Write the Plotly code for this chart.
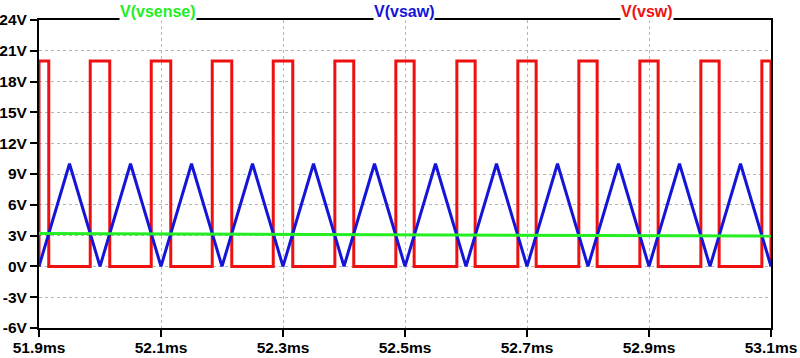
import plotly.graph_objects as go

# Time in ms
saw_t = [51.9, 51.95, 52.0, 52.05, 52.1, 52.15, 52.2, 52.25, 52.3, 52.35, 52.4, 52.45,
         52.5, 52.55, 52.6, 52.65, 52.7, 52.75, 52.8, 52.85, 52.9, 52.95, 53.0, 53.05, 53.1]
saw_v = [0, 10, 0, 10, 0, 10, 0, 10, 0, 10, 0, 10, 0, 10, 0, 10, 0, 10, 0, 10, 0, 10, 0, 10, 0]

sense_t = [51.9, 52.3, 52.7, 53.1]
sense_v = [3.2, 3.12, 3.03, 2.95]

# Switch node: high intervals (start, end) in ms
sw_rise = [51.9, 51.984, 52.084, 52.184, 52.284, 52.385, 52.485, 52.585, 52.685, 52.785, 52.885, 52.985, 53.085]
sw_fall = [51.916, 52.016, 52.116, 52.216, 52.316, 52.416, 52.515, 52.615, 52.715, 52.815, 52.915, 53.015, 53.1]
sw_high = 20
sw_low = 0

sw_t, sw_v = [], []
for r, f in zip(sw_rise, sw_fall):
    sw_t += [r, r, f, f]
    sw_v += [sw_low, sw_high, sw_high, sw_low]

x_ticks = [51.9, 52.1, 52.3, 52.5, 52.7, 52.9, 53.1]
x_labels = ["51.9ms", "52.1ms", "52.3ms", "52.5ms", "52.7ms", "52.9ms", "53.1ms"]
y_ticks = [-6, -3, 0, 3, 6, 9, 12, 15, 18, 21, 24]
y_labels = ["-6V", "-3V", "0V", "3V", "6V", "9V", "12V", "15V", "18V", "21V", "24V"]

GREEN = "#22ee22"
BLUE = "#1515d8"
RED = "#ee1111"

fig = go.Figure()
fig.add_trace(go.Scatter(x=sw_t, y=sw_v, mode="lines", line=dict(color=RED, width=3), name="V(vsw)"))
fig.add_trace(go.Scatter(x=saw_t, y=saw_v, mode="lines", line=dict(color=BLUE, width=3), name="V(vsaw)"))
fig.add_trace(go.Scatter(x=sense_t, y=sense_v, mode="lines", line=dict(color=GREEN, width=3), name="V(vsense)"))

font_tick = dict(family="Liberation Sans, Arial", size=15.5, color="black")

fig.update_layout(
    width=800, height=358,
    margin=dict(l=39, r=29, t=20, b=30),
    paper_bgcolor="white", plot_bgcolor="white",
    showlegend=False,
    xaxis=dict(range=[51.9, 53.1], tickvals=x_ticks, ticktext=["<b>%s</b>" % s for s in x_labels],
               showline=True, linecolor="black", linewidth=2, mirror=True,
               ticks="outside", ticklen=7, tickwidth=2, tickcolor="black",
               showgrid=True, gridcolor="#b5b5b5", gridwidth=1, griddash="dot",
               zeroline=False, tickfont=font_tick, automargin=False, ticklabelstandoff=-3),
    yaxis=dict(range=[-6, 24], tickvals=y_ticks, ticktext=["<b>%s</b>" % s for s in y_labels],
               showline=True, linecolor="black", linewidth=2, mirror=True,
               ticks="outside", ticklen=7, tickwidth=2, tickcolor="black",
               showgrid=True, gridcolor="#b5b5b5", gridwidth=1, griddash="dot",
               zeroline=False, tickfont=font_tick, automargin=False),
)

labels = [("V(vsense)", 158, GREEN), ("V(vsaw)", 404, BLUE), ("V(vsw)", 647, RED)]
for txt, px, col in labels:
    fig.add_annotation(text="<b>%s</b>" % txt, xref="paper", yref="paper",
                       x=(px - 39) / 732, y=1, xanchor="center", yanchor="middle",
                       yshift=9, showarrow=False, bgcolor="white", borderpad=0,
                       font=dict(family="Liberation Sans, Arial", size=16, color=col))

fig.write_html("out.html", config={"displayModeBar": False},
               post_script="document.body.style.margin='0';document.body.style.padding='0';document.body.style.overflow='hidden';")
